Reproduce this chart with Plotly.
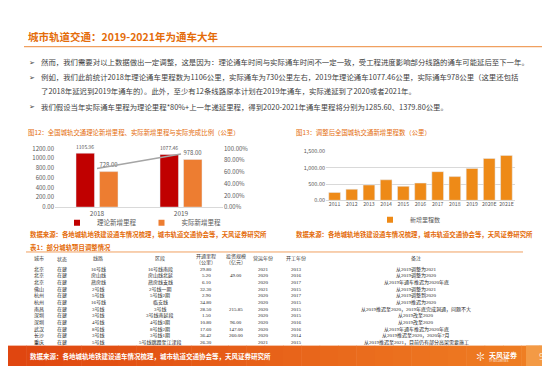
import plotly.graph_objects as go

W, H = 550, 366
def px(x): return x / W
def py(y): return 1 - y / H

FONT = "Noto Sans CJK SC, DejaVu Sans"
SERIF = "Liberation Serif, Noto Sans CJK SC"
ORANGE_T = "#E46C0A"
TXT = "#404040"

# ---------- Chart 12 data ----------
years12 = ["2018", "2019"]
theory_km = [1105.96, 1077.46]
actual_km = [728.00, 978.00]
ratio = [0.658, 0.908]

# ---------- Chart 13 data ----------
years13 = ["2011", "2012", "2013", "2014", "2015", "2016", "2017", "2018", "2019", "2020E", "2021E"]
new_km = [240, 340, 470, 630, 430, 530, 880, 728, 978, 1285.6, 1379.8]

# ---------- Table data ----------
tbl_city = ["北京", "北京", "北京", "佛山", "杭州", "杭州", "南昌", "深圳", "深圳", "武汉", "长沙", "重庆"]
tbl_state = ["在建"] * 12
tbl_line = ["16号线", "房山线", "燕房线", "2号线", "5号线", "16号线", "3号线", "3号线", "4号线", "8号线", "3号线", "5号线"]
tbl_section = ["16号线南段", "房山线北延", "燕房线支线", "2号线一期", "5号线2期", "临安线", "3号线", "3号线南延段",
               "4号线3期", "8号线2期", "3号线1期", "5号线跳蹬至江津段"]
tbl_km = ["29.80", "5.20", "6.10", "32.30", "2.90", "34.80", "28.50", "1.50", "10.80", "17.60", "36.42", "26.30"]
tbl_invest = ["", "49.00", "", "", "", "", "215.85", "", "96.00", "147.00", "260.00", ""]
tbl_open = ["2021", "2020", "2020", "2021", "2020", "2020", "2020", "2020", "2020", "2020", "2020", "2021"]
tbl_start = ["2013", "2016", "2017", "2015", "2017", "2015", "2015", "2015", "2016", "2016", "2014", "2015"]
tbl_note = ["从2019调整为2021", "从2019调整为2020", "从2019年通车推迟为2020年底", "从2019调整为2021",
            "从2019调整到2020", "从2019推迟为2020", "从2019推迟至2020，2019年底完成洞通，问题不大",
            "从2019改至2020", "从2019改至2020", "从2019年通车推迟为2020年底",
            "从2019推迟至2020，2020年7月", "从2019推迟至2021，目前仍有部分高架需要施工"]

RED, ORG, ORG2 = "#C00000", "#ED7D31", "#EE8A17"

fig = go.Figure()

fig.add_trace(go.Bar(
    x=years12, y=theory_km, name="理论新增里程", marker_color=RED, showlegend=False,
    width=0.22, offset=-0.25, text=[f"{v:.2f}" for v in theory_km], textposition="outside",
    textfont=dict(size=6.5, color="#595959", family=FONT), cliponaxis=False,
    xaxis="x", yaxis="y"))
fig.add_trace(go.Bar(
    x=years12, y=actual_km, name="实际新增里程", marker_color=ORG, showlegend=False,
    width=0.22, offset=0.03, text=[f"{v:.2f}" for v in actual_km], textposition="outside",
    textfont=dict(size=6.5, color="#595959", family=FONT), cliponaxis=False,
    xaxis="x", yaxis="y"))
fig.add_trace(go.Scatter(
    x=years12, y=ratio, mode="lines", line=dict(color="#A5A5A5", width=1.5),
    xaxis="x", yaxis="y2", showlegend=False, hoverinfo="skip"))
fig.add_trace(go.Bar(
    x=years13, y=new_km, name="新增里程数", marker_color=ORG2, showlegend=False,
    width=0.68, xaxis="x3", yaxis="y3"))

# legend entries (small square swatches)
for name, col, lg in [("理论新增里程", RED, "legend"), ("实际新增里程", ORG, "legend"), ("新增里程数", ORG2, "legend2")]:
    fig.add_trace(go.Scatter(x=[None], y=[None], mode="markers", name=name,
                             marker=dict(symbol="square", size=6, color=col),
                             xaxis="x3" if lg == "legend2" else "x", yaxis="y3" if lg == "legend2" else "y",
                             legend=lg, showlegend=True))

ann = []
def txt(x, y, s, size, color, bold=False, xanchor="left", family=FONT):
    ann.append(dict(x=px(x), y=py(y), xref="paper", yref="paper",
                    text=f"<b>{s}</b>" if bold else s, showarrow=False,
                    xanchor=xanchor, yanchor="middle", borderpad=0,
                    font=dict(size=size, color=color, family=family)))

# Title
txt(19, 24, "城市轨道交通：2019-2021年为通车大年", 10.5, ORANGE_T, bold=True)

# Bullets
bullets = [
    (50, True, "然而，我们需要对以上数据做出一定调整，这是因为：理论通车时间与实际通车时间不一定一致，受工程进度影响部分线路的通车可能延后至下一年。"),
    (65.5, True, "例如，我们此前统计2018年理论通车里程数为1106公里，实际通车为730公里左右，2019年理论通车1077.46公里，实际通车978公里（这里还包括"),
    (79.5, False, "了2018年延迟到2019年通车的）。此外，至少有12条线路原本计划在2019年通车，实际递延到了2020或者2021年。"),
    (95.5, True, "我们假设当年实际通车里程为理论里程*80%+上一年递延里程，得到2020-2021年通车里程将分别为1285.60、1379.80公里。"),
]
for y, mark, s in bullets:
    if mark:
        txt(20, y, "➢", 7, TXT)
    txt(32, y, s, 7.4, TXT)

# Chart titles
txt(19, 123, "图12：全国城轨交通理论新增里程、实际新增里程与实际完成比例（公里）", 6.4, ORANGE_T)
txt(287, 123, "图13：调整后全国城轨交通新增里程数（公里）", 6.4, ORANGE_T)

# Sources
src = "数据来源：各地城轨地铁建设通车情况梳理，城市轨道交通协会等，天风证券研究所"
txt(21, 227.5, src, 6.4, ORANGE_T, bold=True)
txt(287, 227.5, src, 6.4, ORANGE_T, bold=True)
txt(21, 240.5, "表1：部分城轨项目调整情况", 6.4, ORANGE_T, bold=True)

# Table
col_x = [31, 54, 90, 152, 198, 228, 255, 288, 408]
hdr1 = ["城市", "状态", "线路", "区段", None, None, "营运年份", "开工年份", "备注"]
for cx, h in zip(col_x, hdr1):
    if h:
        txt(cx, 252, h, 5, "#404040", xanchor="center", family=SERIF)
txt(198, 249.3, "开通里程", 5, "#404040", xanchor="center", family=SERIF)
txt(198, 255.8, "（公里）", 5, "#404040", xanchor="center", family=SERIF)
txt(228, 249.3, "投资规模", 5, "#404040", xanchor="center", family=SERIF)
txt(228, 255.8, "（亿元）", 5, "#404040", xanchor="center", family=SERIF)

cols = [tbl_city, tbl_state, tbl_line, tbl_section, tbl_km, tbl_invest, tbl_open, tbl_start, tbl_note]
for i in range(len(tbl_city)):
    ry = 262.8 + i * 6.8
    for cx, col in zip(col_x, cols):
        if col[i]:
            txt(cx, ry, col[i], 5, "#262626", xanchor="center", family=SERIF)

shapes = []
shapes.append(dict(type="line", xref="paper", yref="paper", x0=px(16), x1=px(535), y0=py(34.5), y1=py(34.5),
                   line=dict(color="#F0A060", width=1.2)))
shapes.append(dict(type="line", xref="paper", yref="paper", x0=px(18), x1=px(515), y0=py(245), y1=py(245),
                   line=dict(color="#F0A060", width=1)))

# Footer gradient band
n = 30
c0 = (224, 70, 16)
c1 = (240, 128, 36)
for k in range(n):
    t = k / (n - 1)
    c = tuple(int(c0[j] + (c1[j] - c0[j]) * t) for j in range(3))
    shapes.append(dict(type="rect", xref="paper", yref="paper",
                       x0=px(550 * k / n), x1=px(550 * (k + 1) / n + 0.5), y0=0, y1=py(341),
                       fillcolor=f"rgb{c}", line=dict(width=0), layer="below"))
shapes.append(dict(type="rect", xref="paper", yref="paper", x0=px(518), x1=px(536), y0=0, y1=py(341),
                   fillcolor="#F39A45", line=dict(width=0), layer="below"))
shapes.append(dict(type="rect", xref="paper", yref="paper", x0=px(536), x1=px(550), y0=py(356), y1=py(341),
                   fillcolor="#F6B066", line=dict(width=0), layer="below"))

txt(21, 351.5, src, 6.5, "#FFFFFF", bold=True)
txt(466, 352, "✽", 11, "#FFFFFF")
txt(480, 350.5, "天风证券", 7, "#FFFFFF", bold=True)
txt(480, 357, "TF SECURITIES", 2.8, "#FFFFFF")
txt(530, 352.5, "9", 9, "#FDE2C4")

tickf = dict(size=6, color="#595959", family=FONT)

fig.update_layout(
    width=W, height=H, autosize=False,
    margin=dict(l=0, r=0, t=0, b=0),
    paper_bgcolor="white", plot_bgcolor="rgba(0,0,0,0)",
    barmode="group",
    font=dict(family=FONT),
    xaxis=dict(domain=[px(47), px(215)], anchor="y", type="category", range=[-0.5, 1.5],
               showline=True, linecolor="#D9D9D9", linewidth=1, ticks="", tickangle=0,
               tickfont=dict(size=6.5, color="#595959", family=FONT), showgrid=False),
    yaxis=dict(domain=[py(199), py(139)], anchor="x", range=[0, 1200], dtick=200, tickformat=".2f",
               showgrid=False, zeroline=False, showline=False, tickfont=tickf),
    yaxis2=dict(overlaying="y", anchor="x", side="right", range=[0, 1], dtick=0.2, tickformat=".2%",
                showgrid=False, zeroline=False, showline=False, tickfont=tickf),
    xaxis3=dict(domain=[px(318), px(507)], anchor="y3", type="category", showline=False, ticks="",
                tickangle=0, tickfont=dict(size=5.2, color="#595959", family=FONT), showgrid=False),
    yaxis3=dict(domain=[py(192), py(142)], anchor="x3", range=[0, 1500], dtick=500, tickformat=",.2f",
                showgrid=True, gridcolor="#D9D9D9", gridwidth=0.6, zeroline=True, zerolinecolor="#D9D9D9",
                zerolinewidth=0.6, showline=False, tickfont=dict(size=5.5, color="#595959", family=FONT)),
    legend=dict(orientation="h", x=px(49), y=py(215), xanchor="left", yanchor="middle",
                font=dict(size=6.5, color="#595959", family=FONT), bgcolor="rgba(0,0,0,0)",
                itemwidth=30, tracegroupgap=0),
    legend2=dict(orientation="h", x=px(362), y=py(212), xanchor="left", yanchor="middle",
                 font=dict(size=6, color="#595959", family=FONT), bgcolor="rgba(0,0,0,0)", itemwidth=30),
    annotations=ann,
    shapes=shapes,
)

fig.write_html("out.html")
